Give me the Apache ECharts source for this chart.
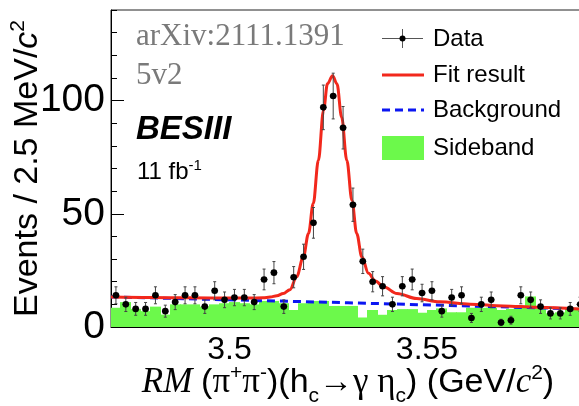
<!DOCTYPE html>
<html><head><meta charset="utf-8">
<script src="https://cdn.jsdelivr.net/npm/echarts@6/dist/echarts.min.js"></script>
<style>html,body{margin:0;padding:0;background:#fff}#c{width:579px;height:406px}</style>
</head><body><div id="c"></div>
<script>
// ---- data ----
const BIN_START = 3.47;      // GeV, low edge of first bin
const BIN_WIDTH = 0.0025;    // 2.5 MeV bins
const dataCounts = [14,10,8,8,14,7,11,14,14,9,16,12,13,13,11,21,24,9,22,31,46,97,102,88,54,29,20,18,10,18,21,15,16,7,13,14,4,10,12,2,3,14,12,9,6,6,8,10];
const sideband = [8.5,11,8,7,9,5.5,10,10,10,9,10,10.5,11,10.5,10,11.5,11.5,10.5,7.5,10.5,11.5,11.5,9.3,9.3,9.3,4.2,7.5,5.4,7.5,7.9,7.9,6.3,7.5,8.2,6.5,6.5,8.5,8.5,8.5,7.5,8,9,13.5,8,6,6.5,8.5,8.5];
const fitX = [3.470,3.480,3.490,3.500,3.505,3.5085,3.5103,3.5120,3.5136,3.5153,3.5170,3.5187,3.5200,3.5212,3.5225,3.5238,3.5248,3.5261,3.5272,3.5284,3.5297,3.5310,3.5322,3.5335,3.5352,3.5369,3.5390,3.5424,3.5474,3.5533,3.5609,3.5694,3.5778,3.5900];
const fitY = [13.2,13.0,12.9,12.8,12.8,12.9,13.2,13.8,14.8,16.5,22.2,31,41.3,54.5,73.6,95.6,107.4,111,107.4,92.6,73.6,55.9,41.3,31,23.7,20.3,17.8,14.8,12.6,11.1,10.1,9.3,8.7,7.8];
const bgX = [3.47, 3.53, 3.59];
const bgY = [13.3, 10.7, 7.9];
const xTickLabels = [3.5, 3.55];
const xMinorTicks = [3.47,3.48,3.49,3.50,3.51,3.52,3.53,3.54,3.55,3.56,3.57,3.58,3.59];
const yTickLabels = [0, 50, 100];
const yMinorTicks = [0,10,20,30,40,50,60,70,80,90,100,110,120,130,140];

const X_MIN = 3.47, X_MAX = 3.59, Y_MIN = 0, Y_MAX = 140;

const binCenters = dataCounts.map((_, i) => BIN_START + (i + 0.5) * BIN_WIDTH);
const dataPts = dataCounts.map((n, i) => [binCenters[i], n, Math.sqrt(n)]);   // Poisson errors
const sidePts = sideband.map((v, i) => [binCenters[i], v]);
const fitPts = fitX.map((x, i) => [x, fitY[i]]);
const bgPts = bgX.map((x, i) => [x, bgY[i]]);

const SANS = '"Liberation Sans", Arial, Helvetica, sans-serif';
const SERIF = '"Liberation Serif", "Times New Roman", serif';
const GRID = {left: 111, top: 10, width: 474, height: 317, containLabel: false, outerBoundsMode: 'none'};

const chart = echarts.init(document.getElementById('c'), null, {renderer: 'canvas'});

const main = {fontFamily: SANS, fontSize: 34, color: '#000', lineHeight: 40};
const option = {
  animation: false,
  backgroundColor: '#fff',
  grid: [
    Object.assign({show: true, borderColor: '#222', borderWidth: 1, backgroundColor: 'transparent'}, GRID),
    Object.assign({show: false}, GRID)
  ],
  xAxis: [{
    type: 'value', gridIndex: 0, min: X_MIN, max: X_MAX, position: 'bottom',
    axisLine: {show: true, onZero: false, lineStyle: {color: '#000', width: 1}},
    axisTick: {show: true, inside: true, length: 5, customValues: xMinorTicks, lineStyle: {color: '#000'}},
    axisLabel: {show: true, customValues: xTickLabels, fontFamily: SANS, fontSize: 32, color: '#000', margin: 7,
      formatter: v => (Math.abs(v - 3.5) < 1e-6 ? '3.5' : '3.55')},
    splitLine: {show: false},
    name: '{rm|RM }{p|(}{g|π}{sup|+}{g|π}{sup|-}{p|)(h}{sub|c}{p|→}{g|γ η}{sub|c}{p|) (GeV/}{ic|c}{sup|2}{p|)}',
    nameLocation: 'middle', nameGap: 31, nameMoveOverlap: false,
    nameTextStyle: {
      rich: {
        rm: {fontFamily: SERIF, fontStyle: 'italic', fontSize: 35, color: '#000', lineHeight: 40},
        p: main,
        g: {fontFamily: SERIF, fontSize: 35, color: '#000', lineHeight: 40},
        ic: {fontFamily: SERIF, fontStyle: 'italic', fontSize: 35, color: '#000', lineHeight: 40},
        sup: {fontFamily: SANS, fontSize: 21, color: '#000', padding: [0, 0, 18, 0]},
        sub: {fontFamily: SANS, fontSize: 21, color: '#000', padding: [28, 0, 0, 0]}
      }
    }
  }, {
    type: 'value', gridIndex: 1, min: X_MIN, max: X_MAX, position: 'bottom',
    axisLine: {show: false},
    axisTick: {show: true, inside: true, length: 10, customValues: xTickLabels, lineStyle: {color: '#000'}},
    axisLabel: {show: false}, splitLine: {show: false}
  }],
  yAxis: [{
    type: 'value', gridIndex: 0, min: Y_MIN, max: Y_MAX, position: 'left',
    axisLine: {show: true, onZero: false, lineStyle: {color: '#000', width: 1}},
    axisTick: {show: true, inside: true, length: 6, customValues: yMinorTicks, lineStyle: {color: '#000'}},
    axisLabel: {show: true, customValues: yTickLabels, fontFamily: SANS, fontSize: 39, color: '#000', margin: 6},
    splitLine: {show: false},
    name: '{a|Events / 2.5 MeV/}{c|c}{s|2}',
    nameLocation: 'middle', nameGap: 64, nameMoveOverlap: false,
    nameTextStyle: {
      rich: {
        a: {fontFamily: SANS, fontSize: 34, color: '#000', lineHeight: 38},
        c: {fontFamily: SANS, fontStyle: 'italic', fontSize: 34, color: '#000', lineHeight: 38},
        s: {fontFamily: SANS, fontSize: 21, color: '#000', padding: [0, 0, 18, 0]}
      }
    }
  }, {
    type: 'value', gridIndex: 1, min: Y_MIN, max: Y_MAX, position: 'left',
    axisLine: {show: false},
    axisTick: {show: true, inside: true, length: 13, customValues: yTickLabels, lineStyle: {color: '#000'}},
    axisLabel: {show: false}, splitLine: {show: false}
  }],
  series: [{
    name: 'Sideband', type: 'custom', xAxisIndex: 0, yAxisIndex: 0, z: 1,
    data: sidePts, encode: {x: 0, y: 1},
    renderItem: function (params, api) {
      const x = api.value(0), v = api.value(1);
      const a = api.coord([x - BIN_WIDTH / 2, v]);
      const b = api.coord([x + BIN_WIDTH / 2, 0]);
      return {type: 'rect', shape: {x: Math.floor(a[0]), y: a[1], width: Math.ceil(b[0]) - Math.floor(a[0]), height: b[1] - a[1]},
        style: {fill: '#6cf94b'}};
    }
  }, {
    name: 'Background', type: 'line', xAxisIndex: 0, yAxisIndex: 0, z: 3,
    data: bgPts, showSymbol: false, symbol: 'none',
    lineStyle: {color: '#0b16f2', width: 3, type: [8, 5]}
  }, {
    name: 'Fit result', type: 'line', xAxisIndex: 0, yAxisIndex: 0, z: 4,
    data: fitPts, showSymbol: false, symbol: 'none', smooth: 0.35, smoothMonotone: 'x',
    lineStyle: {color: '#f2281c', width: 3}
  }, {
    name: 'Data', type: 'custom', xAxisIndex: 0, yAxisIndex: 0, z: 5,
    data: dataPts, encode: {x: 0, y: 1},
    renderItem: function (params, api) {
      const x = api.value(0), v = api.value(1), e = api.value(2);
      const c = api.coord([x, v]);
      const t = api.coord([x, v + e]);
      const b = api.coord([x, Math.max(v - e, 0)]);
      const l = api.coord([x - BIN_WIDTH * 0.35, v]);
      const r = api.coord([x + BIN_WIDTH * 0.35, v]);
      const st = {stroke: '#444', lineWidth: 1};
      return {type: 'group', children: [
        {type: 'line', shape: {x1: c[0], y1: t[1], x2: c[0], y2: b[1]}, style: st},
        {type: 'line', shape: {x1: c[0] - 1.5, y1: t[1], x2: c[0] + 1.5, y2: t[1]}, style: st},
        {type: 'line', shape: {x1: c[0] - 1.5, y1: b[1], x2: c[0] + 1.5, y2: b[1]}, style: st},
        {type: 'line', shape: {x1: l[0], y1: c[1], x2: r[0], y2: c[1]}, style: st},
        {type: 'circle', shape: {cx: c[0], cy: c[1], r: 3.3}, style: {fill: '#000'}}
      ]};
    }
  }],
  graphic: [
    {type: 'text', x: 136, y: 37, style: {text: 'arXiv:2111.1391', fontFamily: SERIF, fontSize: 31, fill: '#7a7a7a', verticalAlign: 'middle'}},
    {type: 'text', x: 136, y: 76, style: {text: '5v2', fontFamily: SERIF, fontSize: 31, fill: '#7a7a7a', verticalAlign: 'middle'}},
    {type: 'text', x: 136, y: 130, style: {text: 'BESIII', fontFamily: SANS, fontWeight: 'bold', fontStyle: 'italic', fontSize: 33, fill: '#000', verticalAlign: 'middle'}},
    {type: 'text', x: 137, y: 172, style: {text: '{a|11 fb}{s|-1}', verticalAlign: 'middle',
      rich: {a: {fontFamily: SANS, fontSize: 24, fill: '#000', lineHeight: 26}, s: {fontFamily: SANS, fontSize: 15, fill: '#000', padding: [0, 0, 13, 0]}}}},
    // legend
    {type: 'line', shape: {x1: 382, y1: 38.5, x2: 423, y2: 38.5}, style: {stroke: '#555', lineWidth: 1}},
    {type: 'line', shape: {x1: 402.5, y1: 29, x2: 402.5, y2: 48}, style: {stroke: '#555', lineWidth: 1}},
    {type: 'circle', shape: {cx: 402.5, cy: 38.5, r: 3}, style: {fill: '#000'}},
    {type: 'text', x: 433, y: 39, style: {text: 'Data', fontFamily: SANS, fontSize: 24, fill: '#000', verticalAlign: 'middle'}},
    {type: 'line', shape: {x1: 382, y1: 75, x2: 424, y2: 75}, style: {stroke: '#f2281c', lineWidth: 3}},
    {type: 'text', x: 433, y: 75, style: {text: 'Fit result', fontFamily: SANS, fontSize: 24, fill: '#000', verticalAlign: 'middle'}},
    {type: 'line', shape: {x1: 382, y1: 110, x2: 424, y2: 110}, style: {stroke: '#0b16f2', lineWidth: 3, lineDash: [8, 5]}},
    {type: 'text', x: 433, y: 110, style: {text: 'Background', fontFamily: SANS, fontSize: 24, fill: '#000', verticalAlign: 'middle'}},
    {type: 'rect', shape: {x: 382, y: 136, width: 42, height: 24}, style: {fill: '#6cf94b'}},
    {type: 'text', x: 433, y: 148, style: {text: 'Sideband', fontFamily: SANS, fontSize: 24, fill: '#000', verticalAlign: 'middle'}}
  ]
};
chart.setOption(option);
</script></body></html>
